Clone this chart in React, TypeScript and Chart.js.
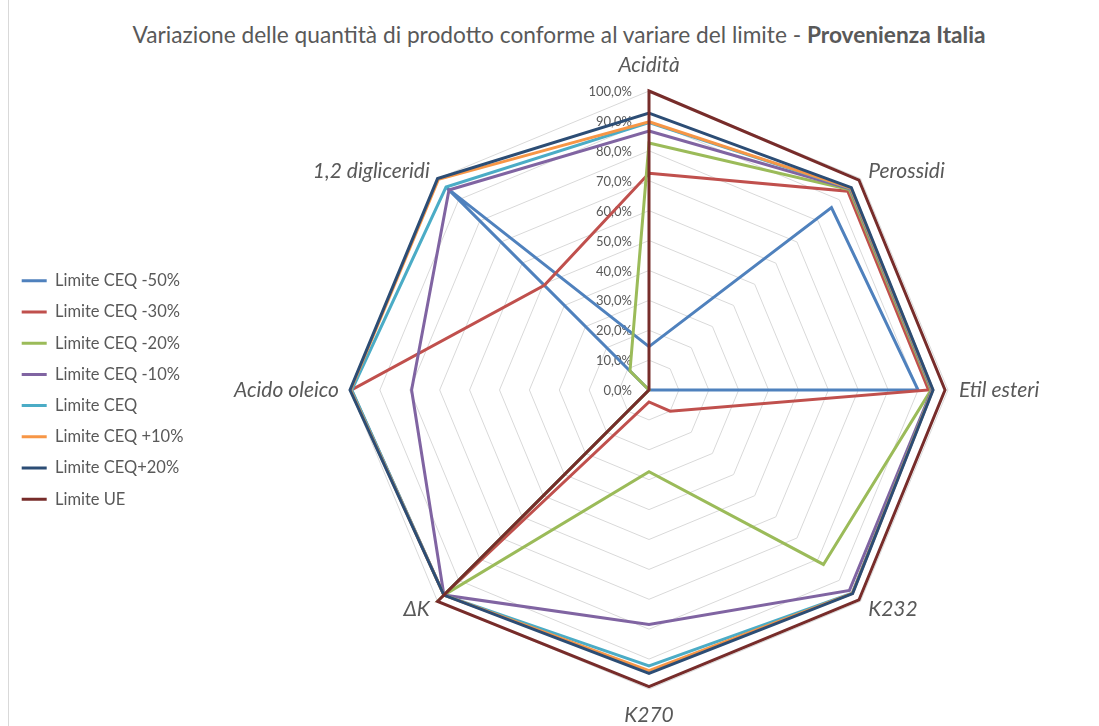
import React, { useEffect, useRef } from "react";
import { Chart, registerables } from "chart.js";

Chart.register(...registerables);

const categories = ["Acidità", "Perossidi", "Etil esteri", "K232", "K270", "ΔK", "Acido oleico", "1,2 digliceridi"];

const seriesLabels = [
  "Limite CEQ -50%",
  "Limite CEQ -30%",
  "Limite CEQ -20%",
  "Limite CEQ -10%",
  "Limite CEQ",
  "Limite CEQ +10%",
  "Limite CEQ+20%",
  "Limite UE",
];

const seriesColors = ["#4F81BD", "#C0504D", "#9BBB59", "#8064A2", "#4BACC6", "#F79646", "#2C4D75", "#772C2A"];

const ceqMinus50 = [14.5, 86.3, 90.0, 0, 0, 97.0, 0, 95.5];
const ceqMinus30 = [72.5, 94.0, 93.5, 10.0, 4.0, 97.0, 99.5, 49.5];
const ceqMinus20 = [82.6, 94.8, 94.3, 82.5, 27.3, 97.0, 0, 9.0];
const ceqMinus10 = [86.6, 95.2, 94.6, 94.8, 78.4, 97.0, 79.4, 94.6];
const ceqBase = [89.4, 95.4, 94.8, 96.1, 92.3, 97.0, 99.4, 96.0];
const ceqPlus10 = [89.7, 95.5, 94.9, 96.2, 93.9, 97.0, 99.8, 99.6];
const ceqPlus20 = [92.6, 95.7, 95.0, 96.3, 94.8, 97.0, 100.0, 100.0];
const limiteUE = [100.0, 99.3, 99.0, 99.3, 99.2, 100.0, 0, 0];

const seriesValues = [ceqMinus50, ceqMinus30, ceqMinus20, ceqMinus10, ceqBase, ceqPlus10, ceqPlus20, limiteUE];

const tickValues = [0, 10, 20, 30, 40, 50, 60, 70, 80, 90, 100];

const FONT = "Lato, 'Open Sans', sans-serif";
const TEXT = "#595959";

const formatPct = (v: number) => v.toFixed(1).replace(".", ",") + "%";

const excelLabels = {
  id: "excelLabels",
  beforeDatasetsDraw(chart: any) {
    const scale = chart.scales.r;
    const ctx = chart.ctx;
    ctx.save();
    ctx.fillStyle = TEXT;
    ctx.textBaseline = "middle";
    ctx.font = `13px ${FONT}`;
    ctx.textAlign = "right";
    tickValues.forEach((v) => {
      const d = scale.getDistanceFromCenterForValue(v);
      ctx.fillText(formatPct(v), scale.xCenter - 17, scale.yCenter - d + 1);
    });
    ctx.font = `italic 21px ${FONT}`;
    categories.forEach((c, i) => {
      const base = scale.getPointPosition(i, scale.drawingArea);
      const dx = base.x - scale.xCenter;
      let align = "center";
      let extra = 26;
      if (Math.abs(dx) > 1) {
        align = dx > 0 ? "left" : "right";
        extra = 11;
      }
      const p = scale.getPointPosition(i, scale.drawingArea + extra);
      ctx.textAlign = align;
      ctx.fillText(c, p.x, p.y);
    });
    ctx.restore();
  },
};

export default function App() {
  const canvasRef = useRef<HTMLCanvasElement | null>(null);

  useEffect(() => {
    if (!canvasRef.current) return;
    Chart.defaults.font.family = FONT;
    const chart = new Chart(canvasRef.current, {
      type: "radar",
      data: {
        labels: categories,
        datasets: seriesLabels.map((label, i) => ({
          label,
          data: seriesValues[i],
          borderColor: seriesColors[i],
          backgroundColor: seriesColors[i],
          borderWidth: 3,
          fill: false,
          pointRadius: 0,
          pointHoverRadius: 0,
          tension: 0,
          order: seriesLabels.length - i,
        })),
      },
      options: {
        animation: false,
        responsive: false,
        maintainAspectRatio: false,
        layout: { padding: { left: 7, top: 91, bottom: 37, right: 0 } },
        scales: {
          r: {
            min: 0,
            max: 100,
            ticks: { display: false, stepSize: 10 },
            grid: { color: "#d9d9d9", lineWidth: 1 },
            angleLines: { display: false },
            pointLabels: { display: false },
          },
        },
        plugins: {
          title: { display: false },
          tooltip: { enabled: false },
          legend: {
            position: "left",
            align: "center",
            labels: {
              boxWidth: 25,
              boxHeight: 3,
              padding: 14.7,
              color: TEXT,
              font: { family: FONT, size: 16.5 },
              generateLabels: (c: any) =>
                c.data.datasets.map((ds: any, i: number) => ({
                  text: ds.label,
                  fillStyle: ds.borderColor,
                  strokeStyle: ds.borderColor,
                  lineWidth: 0,
                  hidden: false,
                  datasetIndex: i,
                  fontColor: TEXT,
                })),
            },
          },
        },
      },
      plugins: [excelLabels],
    } as any);
    return () => chart.destroy();
  }, []);

  return (
    <div style={{ position: "absolute", left: 0, top: 0, width: 1099, height: 726, overflow: "hidden", background: "#fff" }}>
      <div style={{ position: "absolute", left: 8, top: 0, width: 0, height: 726, borderLeft: "1px solid #d9d9d9" }} />
      <div
        style={{
          position: "absolute",
          left: 559,
          top: 20,
          transform: "translateX(-50%)",
          whiteSpace: "nowrap",
          fontFamily: FONT,
          fontSize: 22.7,
          lineHeight: "30px",
          color: TEXT,
        }}
      >
        Variazione delle quantità di prodotto conforme al variare del limite - <b>Provenienza Italia</b>
      </div>
      <canvas ref={canvasRef} width={1106} height={726} style={{ position: "absolute", left: 0, top: 0 }} />
    </div>
  );
}
